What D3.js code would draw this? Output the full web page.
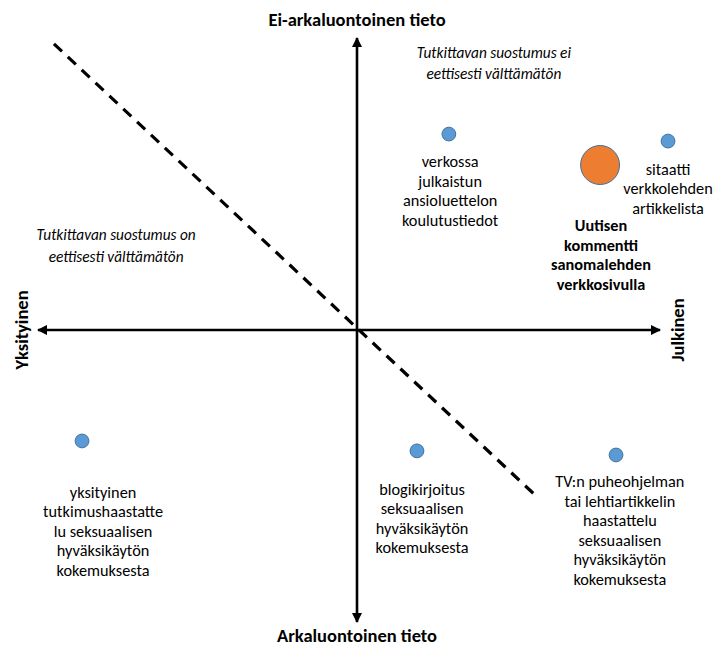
<!DOCTYPE html>
<html>
<head>
<meta charset="utf-8">
<script src="https://cdn.jsdelivr.net/npm/d3@7"></script>
<style>
  html, body { margin: 0; padding: 0; background: #fff; }
  svg text { font-family: Carlito, Lato, "Open Sans", sans-serif; fill: #000; }
</style>
</head>
<body>
<div id="chart"></div>
<script>
// items placed on the private/public (x) and sensitive/non-sensitive (y) plane
var itemNames = ["verkossa", "uutisen kommentti", "sitaatti", "yksityinen", "blogikirjoitus", "TV"];
var itemX = [0.288, 0.762, 0.975, -0.862, 0.188, 0.812];
var itemY = [0.671, 0.565, 0.647, -0.380, -0.414, -0.428];
var itemSize = [1, 8, 1, 1, 1, 1];
var itemSeries = ["muu", "korostettu", "muu", "muu", "muu", "muu"];
var itemLabels = [
    ["verkossa", "julkaistun", "ansioluettelon", "koulutustiedot"],
    ["Uutisen", "kommentti", "sanomalehden", "verkkosivulla"],
    ["sitaatti", "verkkolehden", "artikkelista"],
    ["yksityinen", "tutkimushaastatte", "lu seksuaalisen", "hyväksikäytön", "kokemuksesta"],
    ["blogikirjoitus", "seksuaalisen", "hyväksikäytön", "kokemuksesta"],
    ["TV:n puheohjelman", "tai lehtiartikkelin", "haastattelu", "seksuaalisen", "hyväksikäytön", "kokemuksesta"]
];
var labelX = [0.292, 0.765, 0.975, -0.796, 0.204, 0.824];
var labelY = [0.558, 0.339, 0.531, -0.575, -0.565, -0.538];

// consent boundary (dashed) end points
var boundaryX = [-0.95, 0.561];
var boundaryY = [0.98, -0.568];

// quadrant notes
var noteLines = [
    ["Tutkittavan suostumus ei", "eettisesti välttämätön"],
    ["Tutkittavan suostumus on", "eettisesti välttämätön"]
];
var noteX = [0.429, -0.755];
var noteY = [0.932, 0.308];

var axisTitles = {
    top: "Ei-arkaluontoinen tieto",
    bottom: "Arkaluontoinen tieto",
    left: "Yksityinen",
    right: "Julkinen"
};
var xAxisExtent = [-1, 0.95];
var yAxisExtent = [-1, 1];

var width = 714, height = 648;
var lineHeight = 19.5;

var x = d3.scaleLinear().domain([-1, 1]).range([38, 676]);
var y = d3.scaleLinear().domain([-1, 1]).range([622, 38]);
var r = d3.scaleSqrt().domain([0, 8]).range([0, 19.5]);
var fill = d3.scaleOrdinal().domain(["muu", "korostettu"]).range(["#5B9BD5", "#ED7D31"]);

var svg = d3.select("#chart").append("svg")
    .attr("width", width)
    .attr("height", height);

var defs = svg.append("defs");
defs.append("marker")
    .attr("id", "arrow")
    .attr("viewBox", "0 0 10 10")
    .attr("refX", 9)
    .attr("refY", 5)
    .attr("markerWidth", 4)
    .attr("markerHeight", 4)
    .attr("markerUnits", "strokeWidth")
    .attr("orient", "auto-start-reverse")
  .append("path")
    .attr("d", "M0,0L10,5L0,10z")
    .attr("fill", "#000");

// axes
var axisG = svg.append("g");
axisG.append("line")
    .attr("x1", x(xAxisExtent[0])).attr("x2", x(xAxisExtent[1]))
    .attr("y1", y(0)).attr("y2", y(0))
    .attr("stroke", "#000").attr("stroke-width", 2.6)
    .attr("marker-start", "url(#arrow)")
    .attr("marker-end", "url(#arrow)");
axisG.append("line")
    .attr("x1", x(0)).attr("x2", x(0))
    .attr("y1", y(yAxisExtent[0])).attr("y2", y(yAxisExtent[1]))
    .attr("stroke", "#000").attr("stroke-width", 2.6)
    .attr("marker-start", "url(#arrow)")
    .attr("marker-end", "url(#arrow)");

// boundary
svg.append("line")
    .attr("x1", x(boundaryX[0])).attr("y1", y(boundaryY[0]))
    .attr("x2", x(boundaryX[1])).attr("y2", y(boundaryY[1]))
    .attr("stroke", "#000")
    .attr("stroke-width", 3.2)
    .attr("stroke-dasharray", "11,8");

// axis titles
var titleSize = 18.5;
svg.append("text")
    .text(axisTitles.top)
    .attr("x", x(0)).attr("y", 26)
    .attr("text-anchor", "middle")
    .style("font-weight", "bold").style("font-size", titleSize + "px");
svg.append("text")
    .text(axisTitles.bottom)
    .attr("x", x(0)).attr("y", 642)
    .attr("text-anchor", "middle")
    .style("font-weight", "bold").style("font-size", titleSize + "px");
svg.append("text")
    .text(axisTitles.left)
    .attr("text-anchor", "middle")
    .attr("transform", `translate(27.5, ${y(0)}) rotate(-90)`)
    .style("font-weight", "bold").style("font-size", titleSize + "px");
svg.append("text")
    .text(axisTitles.right)
    .attr("text-anchor", "middle")
    .attr("transform", `translate(683.5, ${y(0)}) rotate(-90)`)
    .style("font-weight", "bold").style("font-size", titleSize + "px");

// notes
noteLines.forEach(function(lines, i) {
    var t = svg.append("text")
        .attr("text-anchor", "middle")
        .style("font-style", "italic")
        .style("font-size", "15.3px");
    lines.forEach(function(line, j) {
        t.append("tspan")
            .attr("x", x(noteX[i]))
            .attr("y", y(noteY[i]) + j * (lineHeight + 2))
            .text(line);
    });
});

// points
var items = itemNames.map(function(name, i) {
    return {name: name, x: itemX[i], y: itemY[i], size: itemSize[i], series: itemSeries[i],
            lines: itemLabels[i], lx: labelX[i], ly: labelY[i]};
});

svg.append("g").selectAll("circle")
    .data(items)
    .enter()
    .append("circle")
    .attr("cx", d => x(d.x))
    .attr("cy", d => y(d.y))
    .attr("r", d => r(d.size))
    .attr("fill", d => fill(d.series))
    .attr("stroke", "#41719C")
    .attr("stroke-width", 1);

// labels
var labelG = svg.append("g");
items.forEach(function(d) {
    var t = labelG.append("text")
        .attr("text-anchor", "middle")
        .style("font-size", "16.3px")
        .style("font-weight", d.series == "korostettu" ? "bold" : "normal");
    d.lines.forEach(function(line, j) {
        t.append("tspan")
            .attr("x", x(d.lx))
            .attr("y", y(d.ly) + j * lineHeight)
            .text(line);
    });
});
</script>
</body>
</html>
